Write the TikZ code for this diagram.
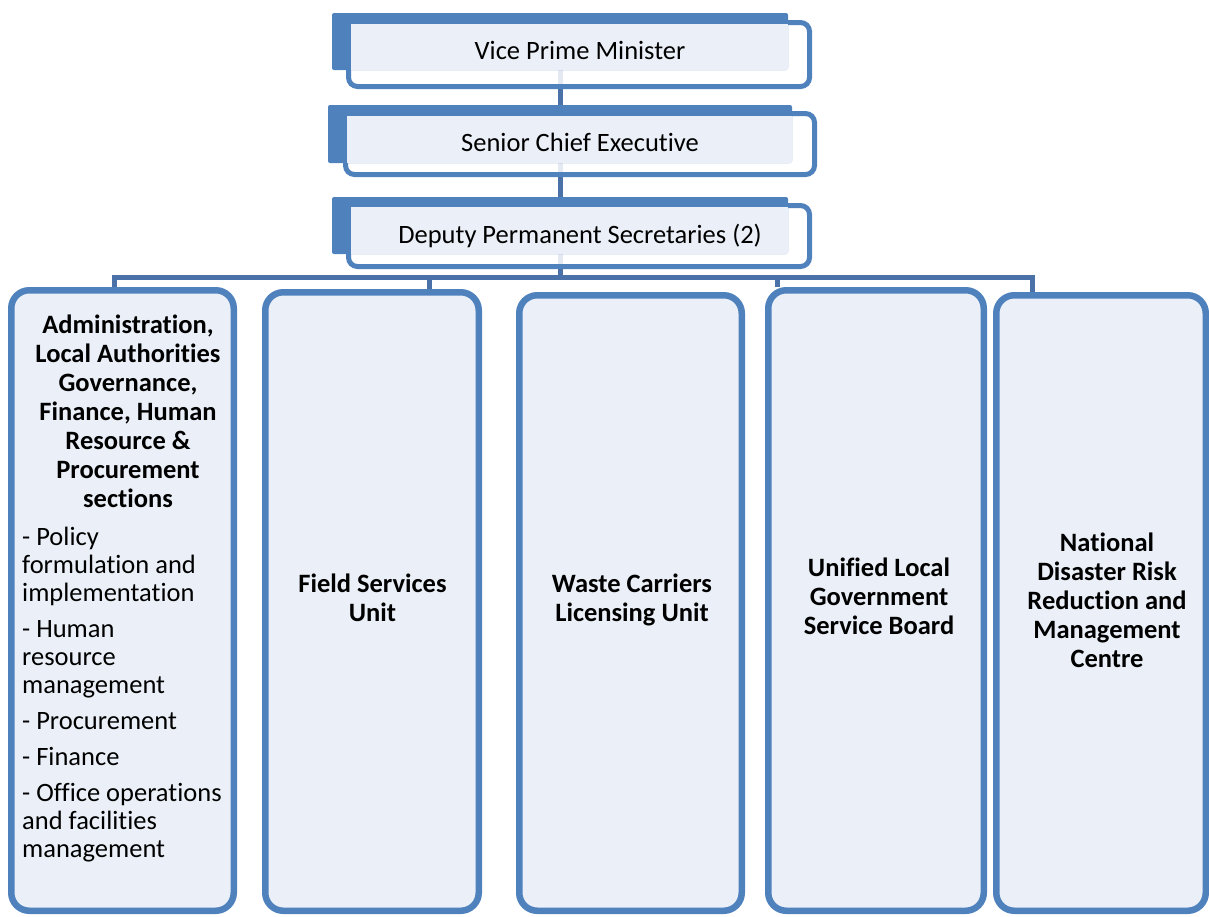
\documentclass[tikz,border=0pt]{standalone}
\usepackage{fontspec}
\setmainfont{Carlito}[Ligatures=NoCommon]
\usetikzlibrary{backgrounds}
\definecolor{accent}{RGB}{79,129,189}
\definecolor{conncol}{RGB}{74,113,168}
\definecolor{pale}{RGB}{235,240,248}
\begin{document}
\begin{tikzpicture}[x=1pt,y=-1pt,
  topframe/.style={draw=accent, line width=5pt, rounded corners=9pt, fill=white, fill opacity=0.85, draw opacity=1, inner sep=0pt},
  toptext/.style={font=\fontsize{26.5}{29}\selectfont, inner sep=0pt, text=black},
  unitbox/.style={draw=accent, line width=6.5pt, fill=pale, rounded corners=18pt, inner sep=0pt},
  unittext/.style={font=\fontsize{26.5}{29}\bfseries\selectfont, align=center, inner sep=0pt, text=black},
  itemtext/.style={font=\fontsize{26.5}{28}\selectfont, align=left, inner sep=0pt, text=black},
  conn/.style={draw=conncol, line width=5pt}]
\useasboundingbox (0,0) rectangle (1209,916);

% coordinates for connector positions
\coordinate (sp) at (560,0);
\coordinate (bar) at (560,277);
\coordinate (xa) at (114,0);
\coordinate (xb) at (429,0);
\coordinate (xd) at (777,0);
\coordinate (xe) at (1032,0);

% top boxes
\node[topframe, minimum width=461pt, minimum height=64pt] (vpm) at (579,54.5) {};
\fill[accent, rounded corners=2pt] (332,13) rectangle (788,70);
\fill[pale] (351,24) rectangle (788,70);
\node[toptext] (vpmt) at (580,50) {Vice Prime Minister};

\node[topframe, minimum width=469pt, minimum height=61pt] (sce) at (580,144) {};
\fill[accent, rounded corners=2pt] (328,105) rectangle (792,163);
\fill[pale] (347,116) rectangle (792,163);
\node[toptext] (scet) at (580,142) {Senior Chief Executive};

\node[topframe, minimum width=461pt, minimum height=61pt] (dps) at (579,236) {};
\fill[accent, rounded corners=2pt] (332,197) rectangle (788,254);
\fill[pale] (351,207) rectangle (788,254);
\node[toptext] (dpst) at (580,236) {Deputy Permanent Secretaries (2)};

% bottom boxes
\node[unitbox, minimum width=222.5pt, minimum height=620.5pt] (A) at (122.5,600.5) {};
\node[unitbox, minimum width=213.5pt, minimum height=618.5pt] (B) at (372,601.5) {};
\node[unitbox, minimum width=222.5pt, minimum height=615.5pt] (C) at (630.5,603) {};
\node[unitbox, minimum width=215.5pt, minimum height=620.5pt] (D) at (876,600.5) {};
\node[unitbox, minimum width=209.5pt, minimum height=615.5pt] (E) at (1101,603) {};

\node[unittext] (At) at (128,411.5) {Administration,\\Local Authorities\\Governance,\\Finance, Human\\Resource \&\\Procurement\\sections};
\node[itemtext, anchor=west] (Ai) at (22,695) {- Policy\\formulation and\\implementation\\[8pt]- Human\\resource\\management\\[8pt]- Procurement\\[8pt]- Finance\\[8pt]- Office operations\\and facilities\\management};
\node[unittext] (Bt) at (372.5,598) {Field Services\\Unit};
\node[unittext] (Ct) at (632,600) {Waste Carriers\\Licensing Unit};
\node[unittext] (Dt) at (879,596) {Unified Local\\Government\\Service Board};
\node[unittext] (Et) at (1107,600) {National\\Disaster Risk\\Reduction and\\Management\\Centre};

% connectors
\begin{pgfonlayer}{background}
\draw[conn] (vpm -| sp) -- (sce -| sp);
\draw[conn] (sce -| sp) -- (dps -| sp);
\draw[conn] (dps -| sp) -- ([yshift=-3pt]bar);
\draw[conn] (A.north -| xa) |- (bar);
\draw[conn] (B.north -| xb) |- (bar);
\draw[conn] (D.north -| xd) |- (bar);
\draw[conn] (E.north -| xe) |- (bar);
\end{pgfonlayer}
\end{tikzpicture}
\end{document}
